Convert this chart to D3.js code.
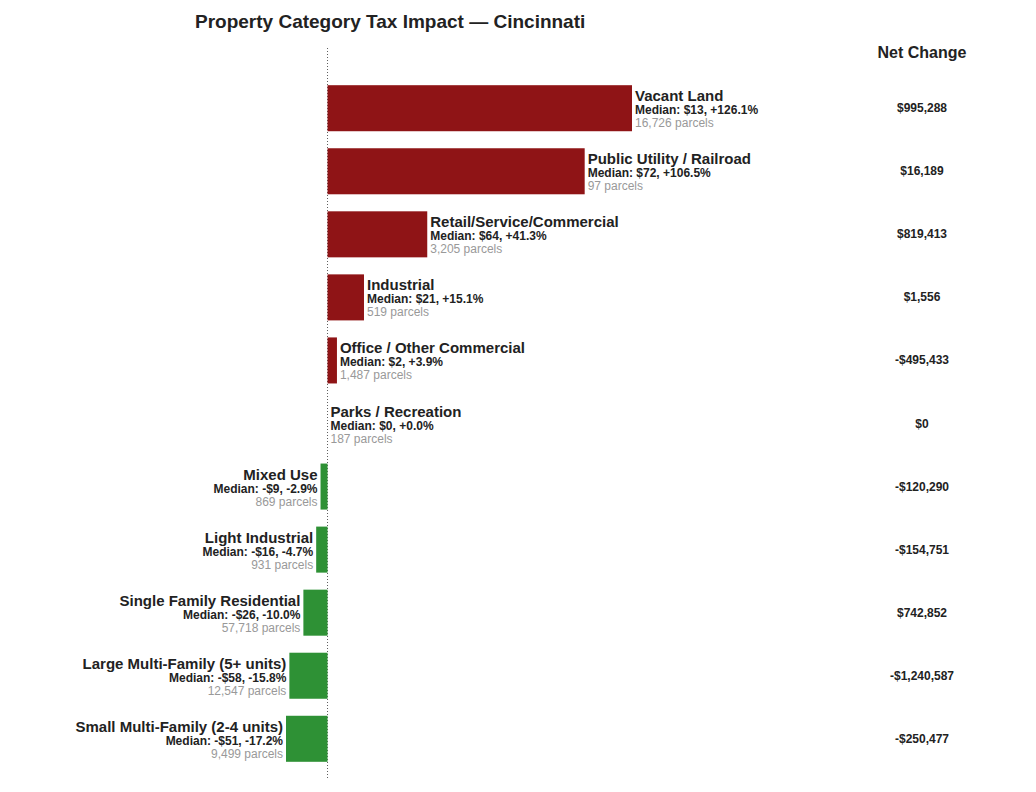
<!DOCTYPE html>
<html><head><meta charset="utf-8">
<script src="https://cdn.jsdelivr.net/npm/d3@7"></script>
<style>body{margin:0;background:#fff;font-family:"Liberation Sans",Arial,sans-serif}</style>
</head><body><svg id="chart" width="1036" height="792"></svg>
<script>
// Data
const categories = ["Vacant Land","Public Utility / Railroad","Retail/Service/Commercial","Industrial","Office / Other Commercial","Parks / Recreation","Mixed Use","Light Industrial","Single Family Residential","Large Multi-Family (5+ units)","Small Multi-Family (2-4 units)"]
const medianDollar = [13,72,64,21,2,0,-9,-16,-26,-58,-51]
const medianPct = [126.1,106.5,41.3,15.1,3.9,0.0,-2.9,-4.7,-10.0,-15.8,-17.2]
const parcels = [16726,97,3205,519,1487,187,869,931,57718,12547,9499]
const netChange = [995288,16189,819413,1556,-495433,0,-120290,-154751,742852,-1240587,-250477]

const svg = d3.select("#chart")
const x = d3.scaleLinear().domain([-17.2,126.1]).range([286,632])
const y = d3.scaleBand().domain(categories).range([77,770]).paddingInner(0.27).paddingOuter(0.13)
const fmt = d3.format(",")
const money = v => (v < 0 ? "-$" : "$") + fmt(Math.abs(v))
const pct = v => (v < 0 ? "-" : "+") + Math.abs(v).toFixed(1) + "%"

svg.append("text").attr("x",195).attr("y",28).attr("font-size",19).attr("font-weight","bold").attr("fill","#222")
  .text("Property Category Tax Impact — Cincinnati")
svg.append("text").attr("x",922).attr("y",58).attr("text-anchor","middle").attr("font-size",16).attr("font-weight","bold").attr("fill","#222")
  .text("Net Change")

svg.append("line").attr("x1",x(0)).attr("x2",x(0)).attr("y1",48).attr("y2",780)
  .attr("stroke","#333").attr("stroke-width",0.8).attr("stroke-dasharray","1,2")

const rows = svg.append("g").selectAll("g").data(categories).join("g")
rows.append("rect")
  .attr("x",(d,i) => x(Math.min(0,medianPct[i])))
  .attr("y",d => y(d))
  .attr("width",(d,i) => Math.abs(x(medianPct[i]) - x(0)))
  .attr("height",y.bandwidth())
  .attr("fill",(d,i) => medianPct[i] >= 0 ? "#8f1416" : "#2e9135")

const lab = rows.append("text")
  .attr("text-anchor",(d,i) => medianPct[i] >= 0 ? "start" : "end")
  .attr("fill","#222")
lab.each(function(d,i){
  const t = d3.select(this)
  const lx = medianPct[i] >= 0 ? x(medianPct[i]) + 3 : x(medianPct[i]) - 3
  const cy = y(d) + y.bandwidth()/2
  t.append("tspan").attr("x",lx).attr("y",cy - 7).attr("font-size",15).attr("font-weight","bold").text(d)
  t.append("tspan").attr("x",lx).attr("y",cy + 6).attr("font-size",12).attr("font-weight","bold").text("Median: " + money(medianDollar[i]) + ", " + pct(medianPct[i]))
  t.append("tspan").attr("x",lx).attr("y",cy + 19).attr("font-size",12).attr("fill","#999").text(fmt(parcels[i]) + " parcels")
})

rows.append("text").attr("x",922).attr("y",d => y(d) + y.bandwidth()/2 + 4)
  .attr("text-anchor","middle").attr("font-size",12).attr("font-weight","bold").attr("fill","#222")
  .text((d,i) => money(netChange[i]))
</script></body></html>
